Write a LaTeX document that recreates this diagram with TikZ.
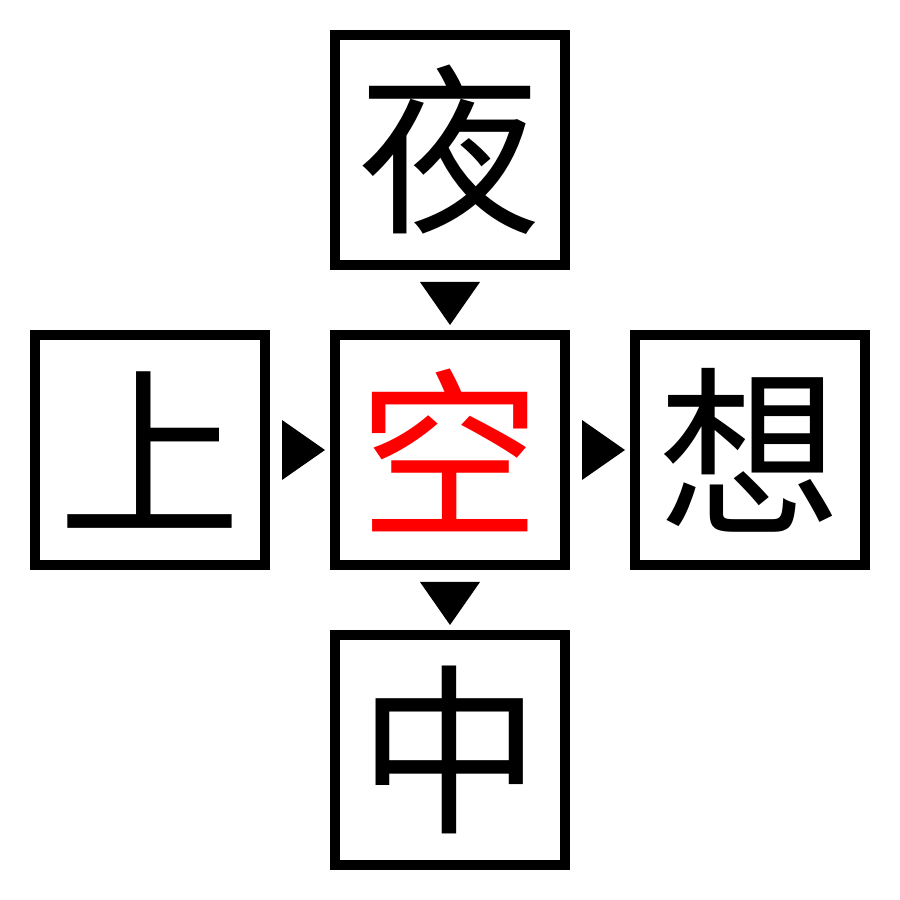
\documentclass[tikz,border=0pt]{standalone}
\usepackage{fontspec}
\usepackage{xcolor}
\newfontfamily\cjk{Noto Sans CJK SC}
\usetikzlibrary{positioning,calc}

\tikzset{
  cell/.style={draw, line width=0.1cm, minimum size=2.3cm, inner sep=0pt, font=\cjk\fontsize{52}{52}\selectfont}
}

\begin{document}
\begin{tikzpicture}[node distance=3cm,on grid]
   \useasboundingbox (0,0) rectangle (9,9);
   \node[cell] (kong) at (4.5,4.5) {\textcolor{red}{空}};
   \node[cell] (ye) [above=of kong] {夜};
   \node[cell] (shang) [left=of kong] {上};
   \node[cell] (xiang) [right=of kong] {想};
   \node[cell] (zhong) [below=of kong] {中};

   % arrows between cells
   \fill ($(ye.south)+(-0.3,-0.12)$) -- ++(0.6,0) -- ($(kong.north)+(0,0.05)$) -- cycle;
   \fill ($(kong.south)+(-0.3,-0.12)$) -- ++(0.6,0) -- ($(zhong.north)+(0,0.05)$) -- cycle;
   \fill ($(shang.east)+(0.12,0.3)$) -- ++(0,-0.6) -- ($(kong.west)+(-0.05,0)$) -- cycle;
   \fill ($(kong.east)+(0.12,0.3)$) -- ++(0,-0.6) -- ($(xiang.west)+(-0.05,0)$) -- cycle;
\end{tikzpicture}
\end{document}
